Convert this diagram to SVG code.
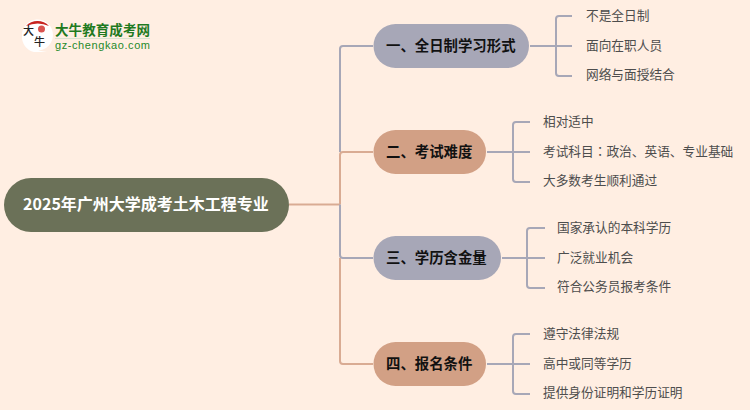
<svg xmlns="http://www.w3.org/2000/svg" width="750" height="410" viewBox="0 0 750 410">
<style>
text{font-family:"Noto Sans CJK SC","Liberation Sans",sans-serif;dominant-baseline:central}
.n{font-size:14.4px;font-weight:700;fill:#111}
.l{font-size:12.7px;fill:#4d4d4d}
.c{fill:none;stroke-width:2}
.p{stroke:#a7a7b7}.o{stroke:#d9ab93}
</style>
<rect width="750" height="410" fill="#ffeee2"/>
<g id="logo">
<path d="M22 36A15.500 15.500 0 1 1 38 50.500L47 52L34 52A15.500 15.500 0 0 1 22 36Z" fill="#fff"/>
<path d="M26 26A15.500 15.500 0 0 1 49 26Q38 21 26 26Z" fill="#c8231f"/>
<circle cx="41.500" cy="29" r="3.500" fill="#d9534f"/>
<text x="23" y="30" font-size="11" font-weight="500" fill="#222">大</text>
<text x="34" y="41" font-size="11" font-weight="500" fill="#222">牛</text>
<text x="55" y="28.500" font-size="13.500" font-weight="700" fill="#1f7a1f" textLength="95">大牛教育成考网</text>
<rect x="55" y="38" width="95" height="1" fill="#d8e3cf"/>
<text x="55" y="44.500" font-size="11" font-weight="500" fill="#1f8a2a" textLength="95" style="font-family:'Liberation Sans',sans-serif">gz-chengkao.com</text>
</g>
<g id="connectors">
<path class="c o" d="M289 204.500H340"/>
<path class="c p" d="M373 46H343Q340 46 340 49V152"/>
<path class="c o" d="M373 152H343Q340 152 340 155V204.500"/>
<path class="c p" d="M373 258H343Q340 258 340 255V204.500"/>
<path class="c o" d="M373 364H343Q340 364 340 361V258"/>
<path class="c p" d="M530 46H572M572 16H559Q556 16 556 19V73Q556 76 559 76H572"/>
<path class="c p" d="M487 152H530M530 122H516Q513 122 513 125V179Q513 182 516 182H530"/>
<path class="c p" d="M502 258H545M545 228H530Q527 228 527 231V285Q527 288 530 288H545"/>
<path class="c p" d="M487 364H530M530 334H516Q513 334 513 337V391Q513 394 516 394H530"/>
</g>
<g id="root"><rect x="4" y="178" width="285" height="54" rx="27" fill="#6b7158"/><text x="146" y="203" text-anchor="middle" font-size="16" font-weight="700" fill="#fff">2025年广州大学成考土木工程专业</text></g>
<g id="n1"><rect x="373.500" y="24" width="155.500" height="44" rx="22" fill="#a7a7b7"/><text class="n" x="386" y="44.500">一、全日制学习形式</text></g>
<g id="n2"><rect x="373.500" y="130" width="112.500" height="44" rx="22" fill="#d2a085"/><text class="n" x="386" y="150.500">二、考试难度</text></g>
<g id="n3"><rect x="373.500" y="236" width="127.500" height="44" rx="22" fill="#a7a7b7"/><text class="n" x="386" y="256.500">三、学历含金量</text></g>
<g id="n4"><rect x="373.500" y="342" width="112.500" height="44" rx="22" fill="#d2a085"/><text class="n" x="386" y="362.500">四、报名条件</text></g>
<g id="l11"><text class="l" x="586" y="14">不是全日制</text></g>
<g id="l12"><text class="l" x="586" y="44">面向在职人员</text></g>
<g id="l13"><text class="l" x="586" y="73">网络与面授结合</text></g>
<g id="l21"><text class="l" x="543" y="120">相对适中</text></g>
<g id="l22"><text class="l" x="543" y="150">考试科目<tspan style="font-family:'Noto Sans CJK JP',sans-serif">：</tspan>政治、英语、专业基础</text></g>
<g id="l23"><text class="l" x="543" y="179">大多数考生顺利通过</text></g>
<g id="l31"><text class="l" x="557" y="226">国家承认的本科学历</text></g>
<g id="l32"><text class="l" x="557" y="256">广泛就业机会</text></g>
<g id="l33"><text class="l" x="557" y="285">符合公务员报考条件</text></g>
<g id="l41"><text class="l" x="543" y="332">遵守法律法规</text></g>
<g id="l42"><text class="l" x="543" y="362">高中或同等学历</text></g>
<g id="l43"><text class="l" x="543" y="391">提供身份证明和学历证明</text></g>
</svg>
